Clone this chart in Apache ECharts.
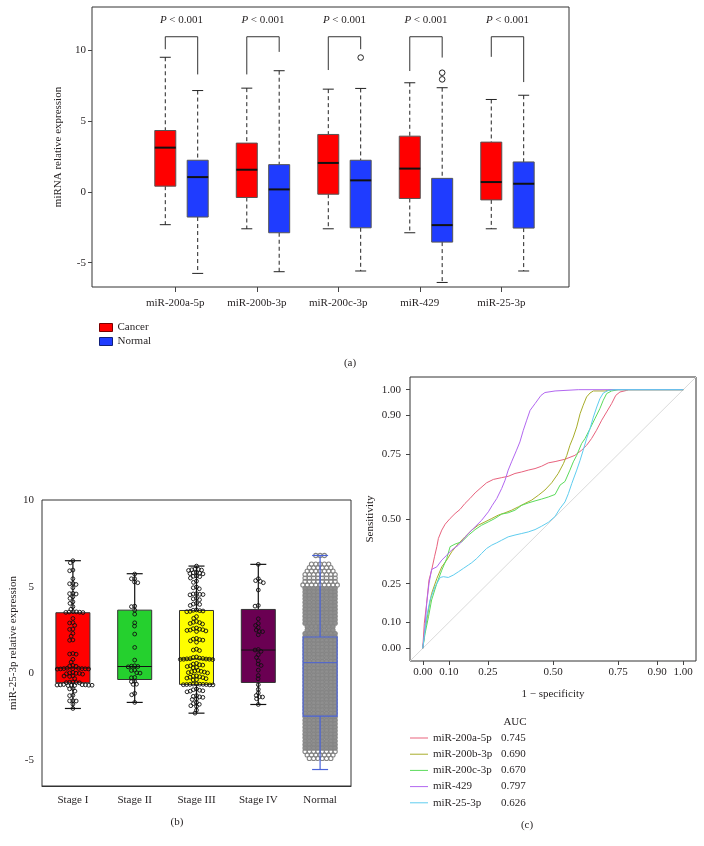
<!DOCTYPE html>
<html><head><meta charset="utf-8">
<script src="https://cdn.jsdelivr.net/npm/echarts/dist/echarts.min.js"></script>
<style>html,body{margin:0;padding:0;background:#fff}#c{width:704px;height:846px}</style>
</head><body><div id="c"></div>
<script>
// ---------- Panel (a) data ----------
const miRNAs = ['miR-200a-5p', 'miR-200b-3p', 'miR-200c-3p', 'miR-429', 'miR-25-3p'];
// [min, Q1, median, Q3, max]
const cancerBox = [[-2.32, 0.40, 3.12, 4.33, 9.50], [-2.61, -0.40, 1.56, 3.44, 7.32], [-2.61, -0.17, 2.04, 4.05, 7.25], [-2.89, -0.47, 1.64, 3.93, 7.70], [-2.61, -0.57, 0.69, 3.51, 6.52]];
const normalBox = [[-5.76, -1.78, 1.04, 2.23, 7.15], [-5.64, -2.89, 0.17, 1.92, 8.55], [-5.59, -2.54, 0.81, 2.23, 7.30], [-6.40, -3.55, -2.35, 0.95, 7.35], [-5.59, -2.56, 0.57, 2.11, 6.82]];
const normalOutliers = [[2, 9.48], [3, 8.41], [3, 7.94]];
const bracketTop = [10.95, 10.95, 10.95, 10.95, 10.95];
const bracketLeftEnd = [10.07, 8.29, 8.60, 8.53, 9.53];
const bracketRightEnd = [8.29, 9.88, 10.07, 9.48, 7.75];
const pValueText = ['< 0.001', '< 0.001', '< 0.001', '< 0.001', '< 0.001'];
const pLabelY = 12.09;
const yTicksA = [-5, 0, 5, 10];
const xRangeA = [-1.022, 4.831];
const yRangeA = [-6.72, 13.05];

// ---------- Panel (b) data ----------
const stages = ['Stage I', 'Stage II', 'Stage III', 'Stage IV', 'Normal'];
const stageBox = [[-2.02, -0.54, 0.31, 3.50, 6.50], [-1.67, -0.35, 0.40, 3.65, 5.75], [-2.29, -0.63, 0.83, 3.63, 6.19], [-1.79, -0.52, 1.35, 3.69, 6.29], [-5.54, -2.46, 0.62, 2.10, 6.80]];
const stageI = [6.50, 6.38, 5.96, 5.92, 5.46, 5.19, 5.17, 5.13, 4.94, 4.62, 4.60, 4.58, 4.42, 4.33, 4.13, 4.04, 3.85, 3.70, 3.56, 3.55, 3.54, 3.53, 3.52, 3.51, 3.17, 2.93, 2.91, 2.77, 2.56, 2.54, 2.31, 2.15, 1.93, 1.91, 1.15, 1.12, 1.11, 0.81, 0.65, 0.46, 0.42, 0.41, 0.30, 0.29, 0.28, 0.28, 0.27, 0.27, 0.26, 0.26, 0.25, 0.06, 0.03, 0.01, 0.00, -0.02, -0.04, -0.14, -0.15, -0.17, -0.30, -0.50, -0.51, -0.52, -0.53, -0.54, -0.64, -0.65, -0.66, -0.66, -0.67, -0.67, -0.68, -0.68, -0.69, -0.70, -0.87, -0.89, -1.02, -1.26, -1.28, -1.57, -1.58, -1.59, -1.77, -2.02];
const stageII = [5.73, 5.46, 5.46, 5.27, 5.23, 3.88, 3.85, 3.65, 3.42, 2.92, 2.73, 2.27, 1.50, 0.77, 0.44, 0.42, 0.40, 0.38, 0.19, 0.17, 0.04, 0.02, -0.23, -0.25, -0.46, -0.47, -0.62, -0.63, -1.15, -1.23, -1.67];
const stageIII = [6.19, 6.02, 6.00, 5.98, 5.96, 5.94, 5.82, 5.80, 5.78, 5.76, 5.74, 5.62, 5.60, 5.58, 5.50, 5.32, 5.25, 4.98, 4.94, 4.88, 4.60, 4.58, 4.56, 4.55, 4.53, 4.33, 4.30, 4.25, 4.04, 4.00, 3.98, 3.92, 3.66, 3.64, 3.62, 3.60, 3.58, 3.56, 3.28, 3.18, 3.00, 2.95, 2.93, 2.88, 2.85, 2.62, 2.58, 2.55, 2.52, 2.50, 2.48, 2.45, 2.42, 2.02, 1.98, 1.95, 1.92, 1.88, 1.80, 1.40, 1.35, 1.32, 0.95, 0.92, 0.88, 0.86, 0.85, 0.84, 0.83, 0.82, 0.82, 0.81, 0.80, 0.58, 0.54, 0.50, 0.48, 0.44, 0.40, 0.35, 0.33, 0.18, 0.14, 0.12, 0.10, 0.08, 0.05, 0.03, -0.14, -0.16, -0.19, -0.22, -0.24, -0.27, -0.30, -0.36, -0.38, -0.60, -0.61, -0.62, -0.63, -0.63, -0.64, -0.64, -0.65, -0.66, -0.66, -0.90, -0.94, -0.97, -1.00, -1.02, -1.06, -1.28, -1.32, -1.35, -1.38, -1.48, -1.50, -1.68, -1.74, -1.78, -1.86, -1.90, -2.12, -2.29];
const stageIV = [6.29, 5.46, 5.35, 5.31, 5.23, 4.81, 3.92, 3.88, 3.15, 2.88, 2.77, 2.65, 2.50, 2.42, 2.41, 2.23, 1.38, 1.35, 1.27, 1.08, 0.92, 0.73, 0.54, 0.46, 0.19, -0.12, -0.31, -0.65, -0.92, -1.12, -1.27, -1.35, -1.36, -1.46, -1.79];
// Normal group: [value level, number of points at that level]
const normalRows = [[6.8, 3], [6.3, 5], [6.1, 6], [5.9, 7], [5.7, 8], [5.5, 8], [5.3, 8], [5.1, 9], [4.9, 8], [4.7, 8], [4.5, 8], [4.3, 8], [4.1, 8], [3.9, 8], [3.7, 8], [3.5, 8], [3.3, 8], [3.1, 8], [2.9, 8], [2.7, 7], [2.5, 7], [2.3, 8], [2.1, 8], [1.9, 8], [1.7, 8], [1.5, 8], [1.3, 8], [1.1, 8], [0.9, 8], [0.7, 8], [0.5, 8], [0.3, 8], [0.1, 8], [-0.1, 8], [-0.3, 8], [-0.5, 8], [-0.7, 8], [-0.9, 8], [-1.1, 8], [-1.3, 8], [-1.5, 8], [-1.7, 8], [-1.9, 8], [-2.1, 8], [-2.3, 8], [-2.5, 8], [-2.7, 8], [-2.9, 8], [-3.1, 8], [-3.3, 8], [-3.5, 8], [-3.7, 8], [-3.9, 8], [-4.1, 8], [-4.3, 8], [-4.5, 8], [-4.7, 7], [-4.9, 6]];
const yTicksB = [-5, 0, 5, 10];
const yRangeB = [-6.49, 10];

// ---------- Panel (c) data ----------
const rocNames = ['miR-200a-5p', 'miR-200b-3p', 'miR-200c-3p', 'miR-429', 'miR-25-3p'];
const rocAUC = ['0.745', '0.690', '0.670', '0.797', '0.626'];
const roc200a = [[0, 0], [0.006, 0.097], [0.015, 0.174], [0.024, 0.264], [0.034, 0.302], [0.045, 0.354], [0.054, 0.393], [0.060, 0.425], [0.073, 0.457], [0.086, 0.480], [0.105, 0.502], [0.124, 0.521], [0.143, 0.537], [0.162, 0.560], [0.181, 0.579], [0.201, 0.601], [0.220, 0.618], [0.245, 0.640], [0.271, 0.653], [0.303, 0.660], [0.328, 0.665], [0.354, 0.676], [0.380, 0.682], [0.405, 0.689], [0.431, 0.695], [0.456, 0.704], [0.482, 0.717], [0.508, 0.722], [0.546, 0.731], [0.584, 0.746], [0.610, 0.766], [0.629, 0.785], [0.648, 0.811], [0.667, 0.843], [0.687, 0.882], [0.706, 0.914], [0.725, 0.946], [0.741, 0.978], [0.757, 0.991], [0.782, 0.997], [0.790, 1.0], [1, 1]];
const roc200b = [[0, 0], [0.009, 0.071], [0.022, 0.148], [0.034, 0.212], [0.054, 0.270], [0.073, 0.315], [0.092, 0.341], [0.111, 0.373], [0.137, 0.405], [0.162, 0.431], [0.188, 0.457], [0.213, 0.476], [0.239, 0.489], [0.265, 0.502], [0.290, 0.515], [0.316, 0.524], [0.341, 0.534], [0.367, 0.547], [0.392, 0.560], [0.418, 0.573], [0.444, 0.592], [0.469, 0.612], [0.495, 0.640], [0.520, 0.676], [0.540, 0.714], [0.553, 0.746], [0.565, 0.785], [0.578, 0.817], [0.591, 0.856], [0.604, 0.907], [0.616, 0.940], [0.629, 0.972], [0.642, 0.987], [0.655, 0.995], [0.700, 0.995], [0.725, 1.0], [1, 1]];
const roc200c = [[0, 0], [0.009, 0.058], [0.022, 0.122], [0.034, 0.187], [0.054, 0.251], [0.073, 0.302], [0.092, 0.347], [0.105, 0.393], [0.124, 0.403], [0.150, 0.412], [0.175, 0.437], [0.201, 0.459], [0.226, 0.476], [0.252, 0.489], [0.277, 0.502], [0.303, 0.519], [0.328, 0.524], [0.354, 0.534], [0.380, 0.553], [0.405, 0.562], [0.431, 0.570], [0.456, 0.577], [0.482, 0.585], [0.508, 0.595], [0.527, 0.631], [0.546, 0.645], [0.565, 0.689], [0.578, 0.721], [0.591, 0.746], [0.610, 0.792], [0.623, 0.811], [0.642, 0.849], [0.661, 0.888], [0.680, 0.927], [0.693, 0.959], [0.706, 0.985], [0.725, 0.995], [0.751, 1.0], [1, 1]];
const roc429 = [[0, 0], [0.009, 0.084], [0.015, 0.174], [0.024, 0.251], [0.034, 0.305], [0.054, 0.315], [0.073, 0.341], [0.092, 0.360], [0.111, 0.380], [0.137, 0.399], [0.156, 0.421], [0.175, 0.444], [0.201, 0.470], [0.226, 0.495], [0.252, 0.528], [0.267, 0.553], [0.284, 0.579], [0.303, 0.618], [0.316, 0.650], [0.328, 0.689], [0.341, 0.721], [0.360, 0.766], [0.373, 0.798], [0.386, 0.843], [0.399, 0.882], [0.412, 0.920], [0.431, 0.946], [0.454, 0.978], [0.469, 0.989], [0.508, 0.995], [0.597, 1.0], [1, 1]];
const roc25 = [[0, 0], [0.006, 0.045], [0.015, 0.122], [0.028, 0.187], [0.047, 0.238], [0.067, 0.274], [0.079, 0.277], [0.098, 0.274], [0.117, 0.283], [0.137, 0.296], [0.156, 0.309], [0.175, 0.322], [0.188, 0.331], [0.207, 0.347], [0.226, 0.367], [0.245, 0.386], [0.265, 0.399], [0.284, 0.408], [0.303, 0.418], [0.328, 0.431], [0.354, 0.438], [0.380, 0.444], [0.405, 0.450], [0.431, 0.459], [0.456, 0.472], [0.482, 0.487], [0.508, 0.510], [0.527, 0.541], [0.546, 0.566], [0.559, 0.598], [0.572, 0.637], [0.591, 0.689], [0.604, 0.727], [0.616, 0.766], [0.629, 0.811], [0.642, 0.849], [0.655, 0.894], [0.668, 0.933], [0.680, 0.965], [0.693, 0.987], [0.712, 0.997], [0.737, 1.0], [1, 1]];
const rocTicks = [0, 0.1, 0.25, 0.5, 0.75, 0.9, 1];
const rocRange = [-0.049, 1.049];

// ---------- styling ----------
const FONT = '"Liberation Serif", "DejaVu Serif", serif';
const TXT = '#231f20';
const FS = 11;
const rocColors = ['#E8627D', '#A8AD2A', '#5BDB5B', '#B267F0', '#5FCDEF'];
const stageFill = ['#FF0000', '#25D02E', '#FFFF00', '#6A0052', 'none'];
const CANCER_DX = -10, NORMAL_DX = 22.4;
const DENSE_BAND = [-4.4, 5.0]; // normal points inside this band are drawn filled (dense mass)
const lab = {fontFamily: FONT, fontSize: FS, color: TXT};

const chart = echarts.init(document.getElementById('c'), null, {renderer: 'canvas'});

function boxA(dx, fill) {
  return function (params, api) {
    const cat = api.value(0);
    const X = api.coord([cat, 0])[0] + dx;
    const Y = v => api.coord([cat, v])[1];
    const lo = Y(api.value(1)), q1 = Y(api.value(2)), md = Y(api.value(3)), q3 = Y(api.value(4)), hi = Y(api.value(5));
    const hw = 10.5, cw = 5.5;
    const dash = {stroke: '#222', lineWidth: 1, lineDash: [4, 3]};
    const solid = {stroke: '#222', lineWidth: 1};
    return {type: 'group', children: [
      {type: 'line', shape: {x1: X, y1: hi, x2: X, y2: q3}, style: dash},
      {type: 'line', shape: {x1: X, y1: q1, x2: X, y2: lo}, style: dash},
      {type: 'line', shape: {x1: X - cw, y1: hi, x2: X + cw, y2: hi}, style: solid},
      {type: 'line', shape: {x1: X - cw, y1: lo, x2: X + cw, y2: lo}, style: solid},
      {type: 'rect', shape: {x: X - hw, y: q3, width: 2 * hw, height: q1 - q3}, style: {fill: fill, stroke: '#555', lineWidth: 1}},
      {type: 'line', shape: {x1: X - hw, y1: md, x2: X + hw, y2: md}, style: {stroke: '#111', lineWidth: 2}}
    ]};
  };
}

function boxB(params, api) {
  const cat = api.value(0);
  const X = api.coord([cat, 0])[0];
  const Y = v => api.coord([cat, v])[1];
  const lo = Y(api.value(1)), q1 = Y(api.value(2)), md = Y(api.value(3)), q3 = Y(api.value(4)), hi = Y(api.value(5));
  const hw = 17, cw = 8;
  const normal = stageFill[cat] === 'none';
  const lc = normal ? '#4A63D8' : '#111';
  const ls = {stroke: lc, lineWidth: 1.2};
  return {type: 'group', children: [
    {type: 'line', shape: {x1: X, y1: hi, x2: X, y2: q3}, style: ls},
    {type: 'line', shape: {x1: X, y1: q1, x2: X, y2: lo}, style: ls},
    {type: 'line', shape: {x1: X - cw, y1: hi, x2: X + cw, y2: hi}, style: ls},
    {type: 'line', shape: {x1: X - cw, y1: lo, x2: X + cw, y2: lo}, style: ls},
    {type: 'rect', shape: {x: X - hw, y: q3, width: 2 * hw, height: q1 - q3}, style: {fill: normal ? null : stageFill[cat], stroke: normal ? lc : '#333', lineWidth: normal ? 1.2 : 1}},
    {type: 'line', shape: {x1: X - hw, y1: md, x2: X + hw, y2: md}, style: {stroke: lc, lineWidth: 1}}
  ]};
}

function beeswarm(pys, D) {
  const idx = pys.map((_, i) => i).sort((a, b) => pys[a] - pys[b]);
  const placed = [];
  const out = new Array(pys.length).fill(0);
  idx.forEach(i => {
    const y = pys[i];
    const near = placed.filter(p => Math.abs(p.y - y) < D);
    const cands = [0];
    near.forEach(p => { const dx = Math.sqrt(D * D - (p.y - y) ** 2); cands.push(p.x - dx, p.x + dx); });
    cands.sort((a, b) => Math.abs(a) - Math.abs(b) || a - b);
    let best = cands.find(c => near.every(p => (p.x - c) ** 2 + (p.y - y) ** 2 >= D * D - 0.01));
    if (best === undefined) best = 0;
    placed.push({x: best, y: y});
    out[i] = best;
  });
  return out;
}

const rocSeries = [roc200a, roc200b, roc200c, roc429, roc25].map((d, i) => ({
  name: rocNames[i], type: 'line', xAxisIndex: 2, yAxisIndex: 2, data: d,
  showSymbol: false, symbol: 'none', smooth: false, z: 3,
  lineStyle: {color: rocColors[i], width: 1}, itemStyle: {color: rocColors[i]}
}));

const option = {
  animation: false,
  backgroundColor: '#fff',
  grid: [
    {left: 92, top: 7, width: 477, height: 280, show: true, borderColor: '#333', borderWidth: 1, backgroundColor: 'transparent', outerBoundsMode: 'none'},
    {left: 42, top: 500, width: 309, height: 286, show: true, borderColor: '#333', borderWidth: 1, backgroundColor: 'transparent', outerBoundsMode: 'none'},
    {left: 410, top: 377, width: 286, height: 284, show: true, borderColor: '#333', borderWidth: 1, backgroundColor: 'transparent', outerBoundsMode: 'none'}
  ],
  xAxis: [
    {gridIndex: 0, type: 'value', min: xRangeA[0], max: xRangeA[1],
      axisLine: {show: false, onZero: false}, splitLine: {show: false},
      axisTick: {customValues: [0, 1, 2, 3, 4], length: 5, lineStyle: {color: '#444'}},
      axisLabel: Object.assign({customValues: [0, 1, 2, 3, 4], margin: 11, formatter: v => miRNAs[Math.round(v)]}, lab)},
    {gridIndex: 1, type: 'category', data: stages,
      axisLine: {show: true, onZero: false, lineStyle: {color: '#333'}}, splitLine: {show: false},
      axisTick: {alignWithLabel: true, length: 4, lineStyle: {color: '#444'}},
      axisLabel: Object.assign({margin: 9}, lab)},
    {gridIndex: 2, type: 'value', min: rocRange[0], max: rocRange[1],
      name: '1 − specificity', nameLocation: 'middle', nameGap: 28, nameTextStyle: lab,
      axisLine: {show: false, onZero: false}, splitLine: {show: false},
      axisTick: {customValues: rocTicks, length: 4, lineStyle: {color: '#444'}},
      axisLabel: Object.assign({customValues: rocTicks, margin: 6, formatter: v => v.toFixed(2)}, lab)}
  ],
  yAxis: [
    {gridIndex: 0, type: 'value', min: yRangeA[0], max: yRangeA[1],
      name: 'miRNA relative expression', nameLocation: 'middle', nameGap: 21, nameTextStyle: lab,
      axisLine: {show: false, onZero: false}, splitLine: {show: false},
      axisTick: {customValues: yTicksA, length: 4, lineStyle: {color: '#444'}},
      axisLabel: Object.assign({customValues: yTicksA, margin: 6}, lab)},
    {gridIndex: 1, type: 'value', min: yRangeB[0], max: yRangeB[1],
      name: 'miR-25-3p relative expression', nameLocation: 'middle', nameGap: 22, nameTextStyle: lab,
      axisLine: {show: false, onZero: false}, splitLine: {show: false},
      axisTick: {customValues: yTicksB, length: 4, lineStyle: {color: '#444'}},
      axisLabel: Object.assign({customValues: yTicksB, margin: 8}, lab)},
    {gridIndex: 2, type: 'value', min: rocRange[0], max: rocRange[1],
      name: 'Sensitivity', nameLocation: 'middle', nameGap: 34, nameTextStyle: lab,
      axisLine: {show: false, onZero: false}, splitLine: {show: false},
      axisTick: {customValues: rocTicks, length: 4, lineStyle: {color: '#444'}},
      axisLabel: Object.assign({customValues: rocTicks, margin: 9, formatter: v => v.toFixed(2)}, lab)}
  ],
  legend: [
    {left: 99, top: 321, orient: 'vertical', padding: 0, itemGap: 1, itemWidth: 13, itemHeight: 8,
      selectedMode: false, icon: 'rect', textStyle: Object.assign({lineHeight: 13}, lab),
      data: [{name: 'Cancer', itemStyle: {color: '#FF0000', borderColor: '#7a0000', borderWidth: 1}},
             {name: 'Normal', itemStyle: {color: '#1F3CFF', borderColor: '#10207a', borderWidth: 1}}]},
    {left: 410, top: 731.5, orient: 'vertical', padding: 0, itemGap: 3.2, itemWidth: 18, itemHeight: 1,
      selectedMode: false, icon: 'rect',
      textStyle: Object.assign({lineHeight: 13, rich: {n: {width: 68, fontFamily: FONT, fontSize: FS, color: TXT, lineHeight: 13}, v: {fontFamily: FONT, fontSize: FS, color: TXT, lineHeight: 13}}}, lab),
      formatter: name => '{n|' + name + '}{v|' + rocAUC[rocNames.indexOf(name)] + '}',
      data: rocNames.map((n, i) => ({name: n, itemStyle: {color: rocColors[i]}}))}
  ],
  graphic: [
    {type: 'text', x: 350, y: 363, style: {text: '(a)', fontFamily: FONT, fontSize: FS, fill: TXT, align: 'center', verticalAlign: 'middle'}},
    {type: 'text', x: 177, y: 822, style: {text: '(b)', fontFamily: FONT, fontSize: FS, fill: TXT, align: 'center', verticalAlign: 'middle'}},
    {type: 'text', x: 527, y: 825, style: {text: '(c)', fontFamily: FONT, fontSize: FS, fill: TXT, align: 'center', verticalAlign: 'middle'}},
    {type: 'text', x: 515, y: 722, style: {text: 'AUC', fontFamily: FONT, fontSize: FS, fill: TXT, align: 'center', verticalAlign: 'middle'}}
  ],
  series: [
    // panel (a)
    {name: 'Cancer', type: 'custom', xAxisIndex: 0, yAxisIndex: 0, itemStyle: {color: '#FF0000'},
      encode: {x: 0, y: [1, 2, 3, 4, 5]}, data: cancerBox.map((b, i) => [i].concat(b)), renderItem: boxA(CANCER_DX, '#FF0000')},
    {name: 'Normal', type: 'custom', xAxisIndex: 0, yAxisIndex: 0, itemStyle: {color: '#1F3CFF'},
      encode: {x: 0, y: [1, 2, 3, 4, 5]}, data: normalBox.map((b, i) => [i].concat(b)), renderItem: boxA(NORMAL_DX, '#1F3CFF')},
    {name: 'outliersA', type: 'custom', xAxisIndex: 0, yAxisIndex: 0, encode: {x: 0, y: 1}, data: normalOutliers,
      renderItem: (p, api) => {
        const c = api.coord([api.value(0), api.value(1)]);
        return {type: 'circle', shape: {cx: c[0] + NORMAL_DX, cy: c[1], r: 2.8}, style: {fill: null, stroke: '#222', lineWidth: 1}};
      }},
    {name: 'brackets', type: 'custom', xAxisIndex: 0, yAxisIndex: 0, encode: {x: 0, y: [1, 2, 3, 4]},
      data: miRNAs.map((_, i) => [i, bracketTop[i], bracketLeftEnd[i], bracketRightEnd[i], pLabelY]),
      renderItem: (p, api) => {
        const cat = api.value(0);
        const X = api.coord([cat, 0])[0];
        const Y = v => api.coord([cat, v])[1];
        const xl = X + CANCER_DX, xr = X + NORMAL_DX;
        return {type: 'group', children: [
          {type: 'polyline', shape: {points: [[xl, Y(api.value(2))], [xl, Y(api.value(1))], [xr, Y(api.value(1))], [xr, Y(api.value(3))]]},
            style: {fill: null, stroke: '#333', lineWidth: 1}},
          {type: 'text', x: (xl + xr) / 2, y: Y(api.value(4)),
            style: {text: '{i|P} ' + pValueText[cat], rich: {i: {fontStyle: 'italic', fontFamily: FONT, fontSize: FS, fill: TXT}},
              fontFamily: FONT, fontSize: FS, fill: TXT, align: 'center', verticalAlign: 'middle'}}
        ]};
      }},
    // panel (b)
    {name: 'stageBoxes', type: 'custom', xAxisIndex: 1, yAxisIndex: 1, encode: {x: 0, y: [1, 2, 3, 4, 5]},
      data: stageBox.slice(0, 4).map((b, i) => [i].concat(b)), renderItem: boxB, z: 2},
    {id: 'swarm', name: 'swarm', type: 'custom', xAxisIndex: 1, yAxisIndex: 1, encode: {x: 0, y: 1}, data: [], z: 3,
      renderItem: (p, api) => {
        const v = api.value(1);
        const c = api.coord([api.value(0), v]);
        const normal = api.value(3) === 1;
        const dense = normal && v >= DENSE_BAND[0] && v <= DENSE_BAND[1];
        return {type: 'circle', shape: {cx: c[0] + api.value(2), cy: c[1], r: normal ? 2.1 : 1.9},
          style: {fill: dense ? '#8f8f8f' : null, stroke: normal ? '#858585' : '#111', lineWidth: normal ? 1.1 : 0.9}};
      }},
    {name: 'normalBox', type: 'custom', xAxisIndex: 1, yAxisIndex: 1, encode: {x: 0, y: [1, 2, 3, 4, 5]},
      data: [[4].concat(stageBox[4])], renderItem: boxB, z: 4},
    // panel (c)
    {name: 'diag', type: 'line', xAxisIndex: 2, yAxisIndex: 2, showSymbol: false, symbol: 'none', silent: true, z: 2,
      data: [[rocRange[0], rocRange[0]], [rocRange[1], rocRange[1]]], lineStyle: {color: '#DADADA', width: 1}}
  ].concat(rocSeries)
};
chart.setOption(option);

// beeswarm layout of the stage points (pixel offsets), rows for the dense normal group
const groups = [stageI, stageII, stageIII, stageIV];
const swarmData = [];
groups.forEach((vals, gi) => {
  const pys = vals.map(v => chart.convertToPixel({yAxisIndex: 1}, v));
  const dx = beeswarm(pys, 3.3);
  vals.forEach((v, k) => swarmData.push([gi, v, dx[k], 0]));
});
normalRows.forEach(([v, n]) => {
  for (let k = 0; k < n; k++) swarmData.push([4, v, (k - (n - 1) / 2) * 4.3, 1]);
});
chart.setOption({series: [{id: 'swarm', data: swarmData}]});
</script></body></html>
